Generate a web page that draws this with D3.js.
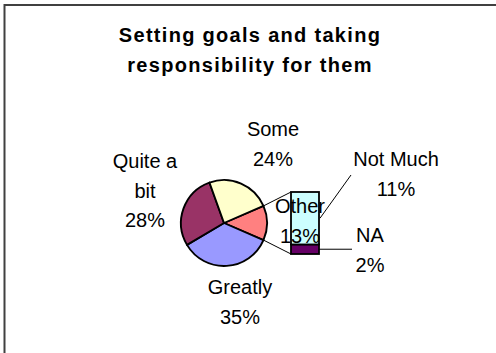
<!DOCTYPE html>
<html>
<head>
<meta charset="utf-8">
<script src="https://cdn.jsdelivr.net/npm/d3@7"></script>
<style>
  html, body { margin: 0; padding: 0; background: #fff; }
  svg { display: block; font-family: "Liberation Sans", Arial, sans-serif; }
</style>
</head>
<body>
<svg id="chart" width="496" height="353"></svg>
<script>
// Pie slices, clockwise starting from the split-off "Other" slice
const pieCategories = ["Other", "Greatly", "Quite a bit", "Some"];
const pieValues = [13, 35, 28, 24];
const pieLabelLines = [["Other"], ["Greatly"], ["Quite a", "bit"], ["Some"]];

// Breakdown of "Other", stacked from the bottom
const barCategories = ["NA", "Not Much"];
const barValues = [2, 11];
const barLabelLines = [["NA"], ["Not Much"]];

const titleLines = ["Setting goals and taking", "responsibility for them"];

const colors = {
  "Other": "#FF8080",
  "Greatly": "#9999FF",
  "Quite a bit": "#993366",
  "Some": "#FFFFCC",
  "Not Much": "#CCFFFF",
  "NA": "#660066"
};

const svg = d3.select("#chart");

// chart frame (runs past the right and bottom edges)
svg.append("rect")
  .attr("x", 4.5).attr("y", 5)
  .attr("width", 500).attr("height", 360)
  .attr("fill", "#fff")
  .attr("stroke", "#404040")
  .attr("stroke-width", 2);

// title
svg.append("g").selectAll("text")
  .data(titleLines).join("text")
  .attr("x", 250)
  .attr("y", (d, i) => 42 + i * 29.5)
  .attr("text-anchor", "middle")
  .attr("font-size", 20)
  .attr("font-weight", "bold")
  .attr("letter-spacing", 1.3)
  .text(d => d);

// ---- pie ----
const cx = 224, cy = 223, r = 43;
const total = d3.sum(pieValues);
const otherHalf = pieValues[0] / total * Math.PI;   // half-angle of "Other"
const pie = d3.pie().sort(null).value(d => d.value)
  .startAngle(Math.PI / 2 - otherHalf)
  .endAngle(Math.PI / 2 - otherHalf + 2 * Math.PI);

const pieData = pie(pieCategories.map((c, i) => ({ cat: c, value: pieValues[i], lines: pieLabelLines[i] })));
const arc = d3.arc().innerRadius(0).outerRadius(r);

const gPie = svg.append("g").attr("transform", `translate(${cx},${cy})`);
gPie.selectAll("path")
  .data(pieData).join("path")
  .attr("d", arc)
  .attr("fill", d => colors[d.data.cat])
  .attr("stroke", "#000")
  .attr("stroke-width", 1.9)
  .attr("stroke-linejoin", "round");

// ---- stacked bar for "Other" ----
const barX = 291, barW = 28;
const barTotal = d3.sum(barValues);
const yBar = d3.scaleLinear().domain([0, barTotal]).range([254, 192]);
let acc = 0;
const barData = barCategories.map((c, i) => {
  const d = { cat: c, value: barValues[i], lines: barLabelLines[i], y0: acc, y1: acc + barValues[i] };
  acc += barValues[i];
  return d;
});

// connector lines from the "Other" slice to the bar
const otherArc = pieData[0];
const edgePt = a => [cx + r * Math.sin(a), cy - r * Math.cos(a)];
const [sx, sy] = edgePt(otherArc.startAngle);
const [ex, ey] = edgePt(otherArc.endAngle);
svg.append("line")
  .attr("x1", sx).attr("y1", sy).attr("x2", barX).attr("y2", yBar(barTotal))
  .attr("stroke", "#000").attr("stroke-width", 1);
svg.append("line")
  .attr("x1", ex).attr("y1", ey).attr("x2", barX).attr("y2", yBar(0))
  .attr("stroke", "#000").attr("stroke-width", 1);

svg.append("g").selectAll("rect")
  .data(barData).join("rect")
  .attr("x", barX)
  .attr("y", d => yBar(d.y1))
  .attr("width", barW)
  .attr("height", d => yBar(d.y0) - yBar(d.y1))
  .attr("fill", d => colors[d.cat])
  .attr("stroke", "#000")
  .attr("stroke-width", 1.8);

// ---- data labels ----
const pct = v => Math.round(v / total * 100) + "%";
const pieLabelPos = {
  "Other": [300, 213],
  "Greatly": [240, 294],
  "Quite a bit": [145, 168],
  "Some": [273, 136]
};
const lineGap = 29.5;

function drawLabel(lines, value, pos) {
  const t = svg.append("text")
    .attr("text-anchor", "middle")
    .attr("font-size", 20)
    .attr("fill", "#000");
  lines.concat([pct(value)]).forEach((s, i) => {
    t.append("tspan").attr("x", pos[0]).attr("y", pos[1] + i * lineGap).text(s);
  });
}

pieData.forEach(d => drawLabel(d.data.lines, d.data.value, pieLabelPos[d.data.cat]));

// bar labels with leader lines
const barLabelPos = {
  "Not Much": [396, 166],
  "NA": [370, 242]
};
const notMuch = barData[1], na = barData[0];
svg.append("line")
  .attr("x1", barX + barW + 1).attr("y1", yBar((notMuch.y0 + notMuch.y1) / 2))
  .attr("x2", 351).attr("y2", 175)
  .attr("stroke", "#000").attr("stroke-width", 1);
svg.append("line")
  .attr("x1", barX + barW).attr("y1", yBar((na.y0 + na.y1) / 2))
  .attr("x2", 352).attr("y2", yBar((na.y0 + na.y1) / 2))
  .attr("stroke", "#000").attr("stroke-width", 1);

barData.forEach(d => drawLabel(d.lines, d.value, barLabelPos[d.cat]));
</script>
</body>
</html>
